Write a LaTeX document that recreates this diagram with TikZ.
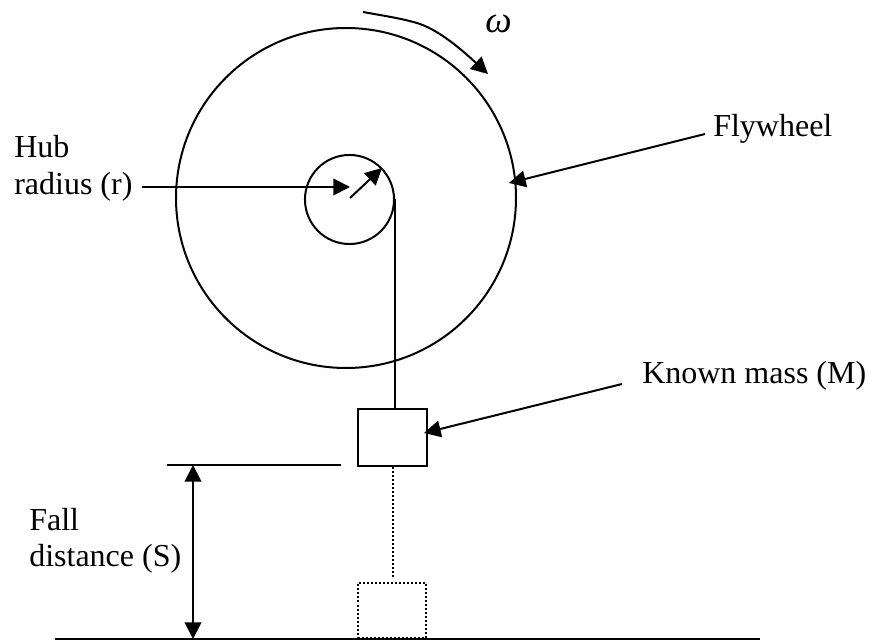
\documentclass[tikz,border=0pt]{standalone}
\usepackage{fontspec}
\setmainfont{Liberation Serif}
\usetikzlibrary{arrows.meta,positioning,calc}

\begin{document}
\begin{tikzpicture}[
  x=0.75pt, y=-0.75pt,
  every node/.style={font=\fontsize{24}{28}\selectfont, inner sep=0pt},
  outline/.style ={draw=black, line width=1.5pt},
  shadow/.style  ={draw=black, line width=1.5pt, dash pattern=on 1.5pt off 1.5pt},
  pointer/.style ={draw=black, line width=1.5pt,
                   -{Triangle[length=12.5pt,width=12.5pt]}},
  measure/.style ={draw=black, line width=1.5pt,
                   {Triangle[length=12.5pt,width=12.5pt]}-{Triangle[length=12.5pt,width=12.5pt]}},
  label/.style   ={anchor=base west, align=left}]

\useasboundingbox (0,0) rectangle (872,641);

% wheel and hub
\node[outline, circle, minimum size=255pt] (wheel) at (346,198) {};
\node[outline, circle, minimum size=66.8pt] (hub) at (349.5,199.5) {};

% cable and mass
\node[outline, minimum width=51.5pt, minimum height=42.5pt] (mass) at (392.5,437.5) {};
\node[shadow, minimum width=51pt, minimum height=41pt] (rest) at (392,610.5) {};
\draw[outline] (hub.east) -- (hub.east |- mass.north);
\coordinate (dropa) at (393,467);
\coordinate (dropb) at (393,578);
\draw[shadow] (dropa) -- (dropb);

% levels
\coordinate (grounda) at (55,639);
\coordinate (groundb) at (760,639);
\draw[outline] (grounda) -- (groundb);
\coordinate (levela) at (167,465);
\coordinate (levelb) at (341,465);
\draw[outline] (levela) -- (levelb);
\coordinate (falla) at (193,465);
\coordinate (fallb) at (193,639);
\draw[measure] (falla) -- (fallb);

% labels
\node[label] (hublabel) at (14,158) {Hub};
\node[label] (radiuslabel) at (14,195) {radius (r)};
\node[label] (falllabel) at (29,531) {Fall};
\node[label] (distlabel) at (29,567) {distance (S)};
\node[label] (flylabel) at (713,137) {Flywheel};
\node[label] (masslabel) at (642,384) {Known mass (M)};
\node[label, font=\fontsize{28}{32}\selectfont\itshape] (omega) at (485,33) {ω};

% pointers
\coordinate (hubfrom) at (142,187);
\coordinate (hubtip) at (350,187);
\draw[pointer] (hubfrom) -- (hubtip);
\coordinate (hubcentre) at (350,198);
\coordinate (hubedge) at (382,168);
\draw[pointer] (hubcentre) -- (hubedge);
\coordinate (flyfrom) at (705,134);
\coordinate (flytip) at (509,183);
\draw[pointer] (flyfrom) -- (flytip);
\coordinate (massfrom) at (622,384);
\coordinate (masstip) at (424,433);
\draw[pointer] (massfrom) -- (masstip);
\coordinate (spina) at (363,12);
\coordinate (spinb) at (488,74);
\draw[pointer] (spina) .. controls (385,16) and (405,19) .. (420,24)
  .. controls (440,31) and (462,50) .. (spinb);

\end{tikzpicture}
\end{document}
